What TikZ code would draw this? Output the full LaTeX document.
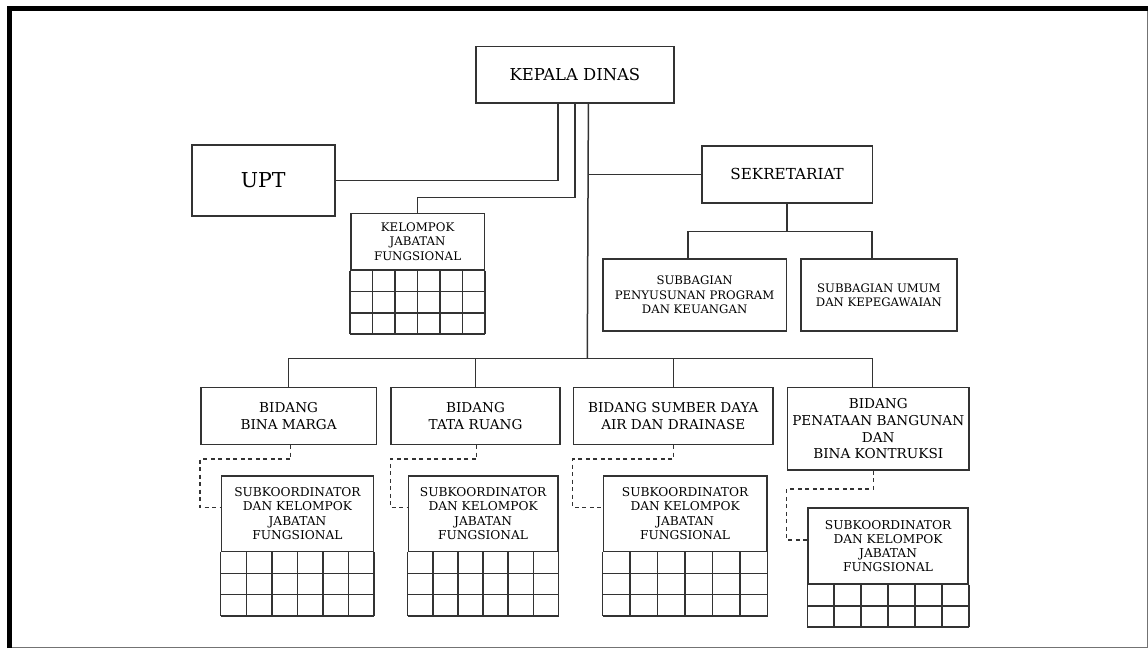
\documentclass[tikz,border=0pt]{standalone}
\usepackage{fontspec}
\setmainfont{DejaVu Serif}
\usetikzlibrary{calc}

\begin{document}
\begin{tikzpicture}[x=1pt, y=-1pt,
	every node/.style={font=\fontsize{12.2}{14.3}\selectfont, text=black},
	box/.style={draw=black!80, line width=1.5pt, rectangle, inner sep=0pt, align=center, anchor=north west},
	link/.style={draw=black!80, line width=1.5pt},
	dlink/.style={link, dash pattern=on 4pt off 3.5pt},
	cell/.style={draw=black!80, line width=1.5pt}]
	\useasboundingbox (0,0) rectangle (1148,648);
	% frame
	\draw[line width=5pt] (9.5,648) -- (9.5,8.5) -- (1148,8.5);
	\draw[black!55, line width=1pt] (1147,11) -- (1147,647) -- (12,647);
	% top
	\node[box, minimum width=198.3pt, minimum height=56.6pt, font=\fontsize{16.4}{18}\selectfont] (kd) at (475,45.7) {KEPALA DINAS};
	\node[box, minimum width=143pt, minimum height=71pt, font=\fontsize{20.5}{24}\selectfont] (upt) at (191,144) {UPT};
	\node[box, minimum width=133.7pt, minimum height=56.3pt, font=\fontsize{11.8}{14.8}\selectfont] (kjf) at (350,212.7) {KELOMPOK\\JABATAN\\FUNGSIONAL};
	\node[box, minimum width=170.7pt, minimum height=57.3pt, font=\fontsize{15.2}{18}\selectfont] (sek) at (701,145) {SEKRETARIAT};
	\node[box, minimum width=183.7pt, minimum height=72pt, font=\fontsize{11.7}{14.5}\selectfont] (sp) at (602,258.3) {SUBBAGIAN\\PENYUSUNAN PROGRAM\\DAN KEUANGAN};
	\node[box, minimum width=155.7pt, minimum height=72pt, font=\fontsize{11.7}{14.5}\selectfont] (su) at (800.3,258.3) {SUBBAGIAN UMUM\\DAN KEPEGAWAIAN};
	% bidang
	\node[box, minimum width=175.7pt, minimum height=57pt, font=\fontsize{13.6}{16.7}\selectfont] (b1) at (200,386.7) {BIDANG\\BINA MARGA};
	\node[box, minimum width=169pt, minimum height=57pt, font=\fontsize{13.6}{16.7}\selectfont] (b2) at (390.3,386.7) {BIDANG\\TATA RUANG};
	\node[box, minimum width=199.6pt, minimum height=57pt, font=\fontsize{13.6}{16.7}\selectfont] (b3) at (572.7,386.7) {BIDANG SUMBER DAYA\\AIR DAN DRAINASE};
	\node[box, minimum width=181.6pt, minimum height=82.6pt, font=\fontsize{13.6}{16.7}\selectfont] (b4) at (786.7,386.7) {BIDANG\\PENATAAN BANGUNAN\\DAN\\BINA KONTRUKSI};
	% subkoordinator
	\node[box, minimum width=152pt, minimum height=75.7pt] (s1) at (220.7,475) {SUBKOORDINATOR\\DAN KELOMPOK\\JABATAN\\FUNGSIONAL};
	\node[box, minimum width=149.3pt, minimum height=75.7pt] (s2) at (407.7,475) {SUBKOORDINATOR\\DAN KELOMPOK\\JABATAN\\FUNGSIONAL};
	\node[box, minimum width=163.3pt, minimum height=75.7pt] (s3) at (602.7,475) {SUBKOORDINATOR\\DAN KELOMPOK\\JABATAN\\FUNGSIONAL};
	\node[box, minimum width=160pt, minimum height=76pt] (s4) at (807.3,507.3) {SUBKOORDINATOR\\DAN KELOMPOK\\JABATAN\\FUNGSIONAL};
	% grids under the group boxes
	\foreach \s/\r in {kjf/3, s1/3, s2/3, s3/3, s4/2} {
		\foreach \i in {0,...,6}
			\draw[cell] ($(\s.south west)!\i/6!(\s.south east)$) -- ++(0,\r*21.2);
		\foreach \j in {1,...,\r}
			\draw[cell] ($(\s.south west)+(0,\j*21.2)$) -- ($(\s.south east)+(0,\j*21.2)$);
	}
	% lines
	\coordinate (bus) at (587.3,358.3);
	\draw[link] ([xshift=-17pt]kd.south) |- (upt.east);
	\draw[link] (kd.south) -- ++(0,93.7) -| (kjf.north);
	\draw[link] ([xshift=13.5pt]kd.south) -- (bus);
	\draw[link] ([xshift=13.5pt]kd.south) |- (sek.west);
	\draw[link] (b1.north) |- (bus) -| ([xshift=-6pt]b4.north);
	\draw[link] (b2.north) -- (b2.north |- bus);
	\draw[link] (b3.north) -- (b3.north |- bus);
	\draw[link] (sek.south) -- ++(0,27.7) coordinate (sb);
	\draw[link] ([xshift=-6.5pt]sp.north) |- (sb) -| ([xshift=-7pt]su.north);
	\foreach \b/\s/\dx/\e in {b1/s1/2/14, b2/s2/1/14, b3/s3/0/14, b4/s4/-5/18.4}
		\draw[dlink] ([xshift=\dx pt]\b.south) -- ++(0,\e) coordinate (bend) -- (bend -| \b.west) |- ([yshift=6pt]\s.west);
\end{tikzpicture}
\end{document}
